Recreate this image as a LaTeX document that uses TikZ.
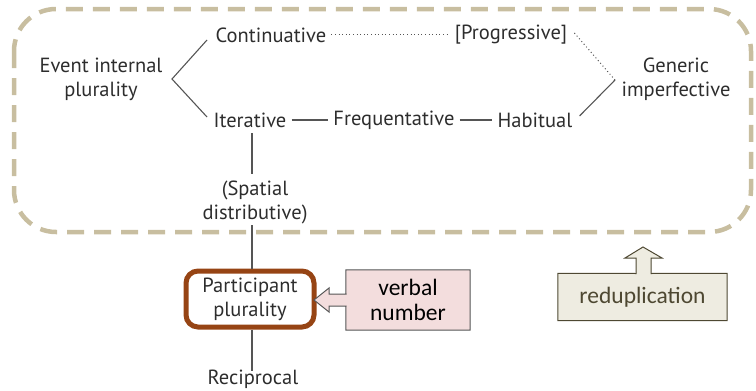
\documentclass[tikz,border=0pt]{standalone}
\usepackage{fontspec}
\setmainfont{PT Sans}
\newfontfamily\calib{Carlito}
\begin{document}
\begin{tikzpicture}[x=1pt,y=-1pt,
  txt/.style={text=txtc,font=\fontsize{20.5}{24}\selectfont,inner sep=1pt,align=center},
  conn/.style={draw=linec,line width=1.1pt},
  dotconn/.style={draw=linec,line width=1pt,dash pattern=on 1pt off 2.6pt},
  callt/.style={font=\calib\fontsize{23.5}{25}\selectfont,align=center},
]
\definecolor{txtc}{RGB}{45,45,45}
\definecolor{linec}{RGB}{85,85,85}
\definecolor{tanc}{RGB}{200,190,160}
\definecolor{brownc}{RGB}{150,68,20}
\definecolor{pinkc}{RGB}{243,221,221}
\definecolor{beigec}{RGB}{238,236,225}
\definecolor{olivec}{RGB}{78,72,50}
\useasboundingbox (0,0) rectangle (756,391);
% dashed frame
\draw[tanc,line width=4.5pt,dash pattern=on 17pt off 10pt,rounded corners=42pt] (14,9) rectangle (751,232);
% texts
\node[txt] (eip) at (101,79) {Event internal\\plurality};
\node[txt] (cont) at (271,35) {Continuative};
\node[txt] (prog) at (511,35) {[Progressive]};
\node[txt] (iter) at (250,120) {Iterative};
\node[txt] (freq) at (394,120) {Frequentative};
\node[txt] (hab) at (535,120) {Habitual};
\node[txt] (gen) at (676,79) {Generic\\imperfective};
\node[txt] (spat) at (255,202) {(Spatial\\distributive)};
\node[txt,draw=brownc,line width=5pt,rounded corners=12pt,minimum width=128pt,minimum height=56pt] (part) at (250,299) {Participant\\plurality};
\node[txt] (rec) at (253,379) {Reciprocal};
% connectors
\coordinate (eipR) at (172,79);
\coordinate (genL) at (615,80);
\draw[conn] (207,40) -- (eipR) -- (207,117);
\draw[dotconn] ([xshift=4pt,yshift=1pt]cont.east) -- ([xshift=-4pt,yshift=1pt]prog.west);
\draw[dotconn] ([xshift=6pt,yshift=2pt]prog.east) -- (genL);
\draw[conn] ([xshift=6pt,yshift=4pt]hab.east) -- (genL);
\draw[conn] ([xshift=4pt]iter.east) -- ([xshift=-4pt]freq.west);
\draw[conn] ([xshift=4pt]freq.east) -- ([xshift=-4pt]hab.west);
\draw[conn] (252,133) -- (252,174);
\draw[conn] (252,225) -- (part.north -| 252,0);
\draw[conn] (part.south -| 252,0) -- ([yshift=-3pt]rec.north -| 252,0);
% verbal number callout
\node[callt,minimum width=124pt,minimum height=60pt,inner sep=0pt] (vn) at (408,300) {\phantom{verbal}};
\draw[fill=pinkc,draw=linec,line width=1pt] (vn.north west) -- (vn.north east) -- (vn.south east) -- (vn.south west) -- (346,306) -- (329,306) -- (329,312) -- (314,300) -- (329,288) -- (329,294) -- (346,294) -- cycle;
\node[callt,text=black] (vnt) at (vn) {verbal\\number};
% reduplication callout
\node[callt,minimum width=169pt,minimum height=47pt,inner sep=0pt] (red) at (642.5,297) {\phantom{reduplication}};
\draw[fill=beigec,draw=olivec,line width=1pt] (red.south west) -- (red.north west) -- (636,273.5) -- (636,258) -- (625,258) -- (643,247) -- (662,258) -- (651,258) -- (651,273.5) -- (red.north east) -- (red.south east) -- cycle;
\node[callt,text=olivec] (redt) at (red) {reduplication};
\end{tikzpicture}
\end{document}
